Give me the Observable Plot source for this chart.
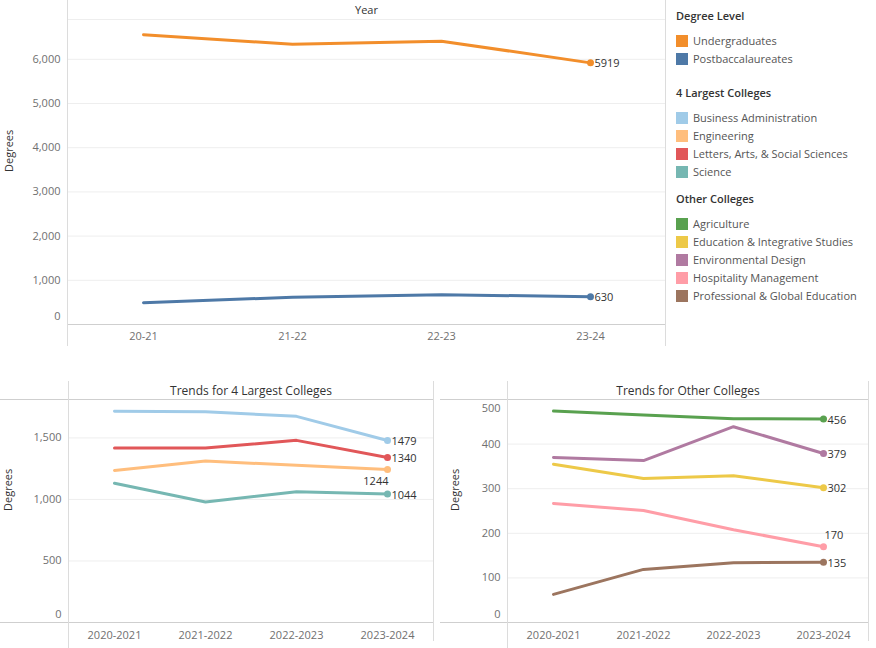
<!DOCTYPE html>
<html><head><meta charset="utf-8">
<script src="https://cdn.jsdelivr.net/npm/d3@7"></script>
<script src="https://cdn.jsdelivr.net/npm/@observablehq/plot@0.6"></script>
<style>
body{margin:0;background:#fff;font-family:"Open Sans",sans-serif;}
#root{position:relative;width:876px;height:648px;overflow:hidden;background:#fff;}
.panel{position:absolute;}
.panel svg{display:block;}
.lg-title{position:absolute;font-size:11px;font-weight:600;color:#333;white-space:nowrap;line-height:14px;}
.lg-item{position:absolute;font-size:11px;color:#555;white-space:nowrap;line-height:14px;}
.lg-sw{position:absolute;width:12px;height:12px;}
</style></head><body><div id="root"></div>
<script>
// ---- data ----
const topYears = ["20-21", "21-22", "22-23", "23-24"];
const degreeLevels = ["Undergraduates", "Postbaccalaureates"];
const undergraduates = [6554, 6340, 6410, 5919];
const postbaccalaureates = [491, 618, 672, 630];
const degreeColors = ["#f28e2b", "#4e79a7"];
const topTicks = [0, 1000, 2000, 3000, 4000, 5000, 6000];

const collegeYears = ["2020-2021", "2021-2022", "2022-2023", "2023-2024"];
const largestColleges = ["Business Administration", "Engineering", "Letters, Arts, & Social Sciences", "Science"];
const businessAdministration = [1717, 1713, 1675, 1479];
const engineering = [1236, 1312, 1277, 1244];
const lettersArtsSocialSciences = [1417, 1417, 1480, 1340];
const science = [1131, 979, 1063, 1044];
const largestColors = ["#a0cbe8", "#ffbe7d", "#e15759", "#76b7b2"];
const largestTicks = [0, 500, 1000, 1500];

const otherColleges = ["Agriculture", "Education & Integrative Studies", "Environmental Design", "Hospitality Management", "Professional & Global Education"];
const agriculture = [474, 465, 457, 456];
const educationIntegrativeStudies = [355, 323, 329, 302];
const environmentalDesign = [370, 363, 439, 379];
const hospitalityManagement = [267, 251, 208, 170];
const professionalGlobalEducation = [63, 119, 134, 135];
const otherColors = ["#59a14f", "#edc948", "#b07aa1", "#ff9da7", "#9c755f"];
const otherTicks = [0, 100, 200, 300, 400, 500];

const legendGroups = [
  {title: "Degree Level", names: degreeLevels, colors: degreeColors},
  {title: "4 Largest Colleges", names: largestColleges, colors: largestColors},
  {title: "Other Colleges", names: otherColleges, colors: otherColors}
];

// ---- helpers ----
const root = document.getElementById("root");
const fmt = d3.format(",");
function place(x, y, node) {
  const d = document.createElement("div");
  d.className = "panel";
  d.style.left = x + "px"; d.style.top = y + "px";
  d.appendChild(node);
  root.appendChild(d);
}

function makeChart(c) {
  const rows = [];
  c.names.forEach((n, i) => c.values[i].forEach((v, j) => rows.push({name: n, year: c.years[j], value: v})));
  const lastYear = c.years[c.years.length - 1];
  const last = rows.filter(d => d.year === lastYear);
  const lp = c.labelPlace || {};
  const lblRight = last.filter(d => !lp[d.name]);
  const lblBelow = last.filter(d => lp[d.name] === "below");
  const lblAbove = last.filter(d => lp[d.name] === "above");
  const yMax = c.yMax;
  const topTick = c.ticks[c.ticks.length - 1];
  const midTicks = c.ticks.filter(t => t !== 0 && !(t === topTick && topTick >= yMax));
  const axisOpts = {tickSize: 0, tickPadding: 7, tickFormat: fmt, label: null, fill: "#707070", fontSize: 11};
  const labelCommon = {x: "year", y: "value", text: d => String(d.value), fill: "#333", fontSize: 11};
  const marks = [
    Plot.gridY(c.ticks.filter(t => t !== 0 && t < yMax), {stroke: "#eeeeee", strokeOpacity: 1}),
    Plot.frame({anchor: "top", stroke: c.headerStroke, strokeOpacity: 1, insetLeft: c.extendLeft ? -c.marginLeft : 0}),
    Plot.frame({anchor: "bottom", stroke: "#cfcfcf", strokeOpacity: 1, insetLeft: c.extendLeft ? -c.marginLeft : 0}),
    Plot.frame({anchor: "left", stroke: "#dcdcdc", strokeOpacity: 1, insetTop: -c.marginTop, insetBottom: -c.lineBelow}),
    Plot.frame({anchor: "right", stroke: "#dcdcdc", strokeOpacity: 1, insetTop: -c.marginTop, insetBottom: -c.rightBelow}),
    Plot.axisY(midTicks, axisOpts),
    Plot.axisY([0], {...axisOpts, dy: -8}),
    Plot.axisX({tickSize: 0, tickPadding: c.xPad, label: null, fill: "#707070", fontSize: 11}),
    Plot.text([c.title], {frameAnchor: "top", lineAnchor: "middle", dy: c.titleDy, fill: "#333", fontSize: c.titleSize}),
    Plot.text(["Degrees"], {frameAnchor: "left", rotate: -90, dx: -(c.marginLeft - c.degX), fill: "#333", fontSize: 11}),
    Plot.line(rows, {x: "year", y: "value", z: "name", stroke: "name", strokeWidth: 3}),
    Plot.dot(last, {x: "year", y: "value", fill: "name", r: 3.5}),
    Plot.text(lblRight, {...labelCommon, textAnchor: "start", dx: 4, dy: 1}),
    Plot.text(lblBelow, {...labelCommon, textAnchor: "end", dx: 1, dy: 12}),
    Plot.text(lblAbove, {...labelCommon, textAnchor: "start", dx: 1, dy: -11})
  ];
  if (topTick >= yMax) marks.push(Plot.axisY([topTick], {...axisOpts, dy: 9}));
  return Plot.plot({
    width: c.width, height: c.height,
    marginLeft: c.marginLeft, marginRight: 1, marginTop: c.marginTop, marginBottom: c.marginBottom,
    style: {fontFamily: "'Open Sans', sans-serif", fontSize: "11px", background: "#fff", overflow: "visible"},
    x: {type: "point", domain: c.years, padding: 0.5},
    y: {domain: [0, yMax]},
    color: {domain: c.names, range: c.colors},
    marks
  });
}

// ---- top chart ----
place(0, 0, makeChart({
  years: topYears, names: degreeLevels, values: [undergraduates, postbaccalaureates], colors: degreeColors,
  ticks: topTicks, yMax: 6900, width: 666, height: 345, marginLeft: 67, marginTop: 19, marginBottom: 21,
  lineBelow: 21, rightBelow: 21, xPad: 8, title: "Year", titleDy: -9, titleSize: 11, degX: 9,
  headerStroke: "#eeeeee", extendLeft: false
}));

// ---- bottom left ----
place(0, 381, makeChart({
  years: collegeYears, names: largestColleges,
  values: [businessAdministration, engineering, lettersArtsSocialSciences, science], colors: largestColors,
  ticks: largestTicks, yMax: 1812, width: 434, height: 267, marginLeft: 68, marginTop: 18, marginBottom: 26,
  lineBelow: 26, rightBelow: 18, xPad: 9, title: "Trends for 4 Largest Colleges", titleDy: -8, titleSize: 12, degX: 8,
  headerStroke: "#cfcfcf", extendLeft: true, labelPlace: {"Engineering": "below"}
}));

// ---- bottom right ----
place(440, 381, makeChart({
  years: collegeYears, names: otherColleges,
  values: [agriculture, educationIntegrativeStudies, environmentalDesign, hospitalityManagement, professionalGlobalEducation],
  colors: otherColors,
  ticks: otherTicks, yMax: 500, width: 429, height: 267, marginLeft: 67, marginTop: 18, marginBottom: 26,
  lineBelow: 26, rightBelow: 18, xPad: 9, title: "Trends for Other Colleges", titleDy: -8, titleSize: 12, degX: 15,
  headerStroke: "#cfcfcf", extendLeft: true, labelPlace: {"Hospitality Management": "above"}
}));

// ---- legend ----
(function () {
  const titleY = [15.5, 93, 199];
  legendGroups.forEach((g, gi) => {
    const t = document.createElement("div");
    t.className = "lg-title";
    t.textContent = g.title;
    t.style.left = "676px"; t.style.top = (titleY[gi] - 7) + "px";
    root.appendChild(t);
    g.names.forEach((n, i) => {
      const cy = titleY[gi] + 25 + i * 18;
      const sw = document.createElement("div");
      sw.className = "lg-sw";
      sw.style.background = g.colors[i];
      sw.style.left = "676px"; sw.style.top = (cy - 6) + "px";
      root.appendChild(sw);
      const it = document.createElement("div");
      it.className = "lg-item";
      it.textContent = n;
      it.style.left = "693px"; it.style.top = (cy - 7) + "px";
      root.appendChild(it);
    });
  });
})();
</script></body></html>
